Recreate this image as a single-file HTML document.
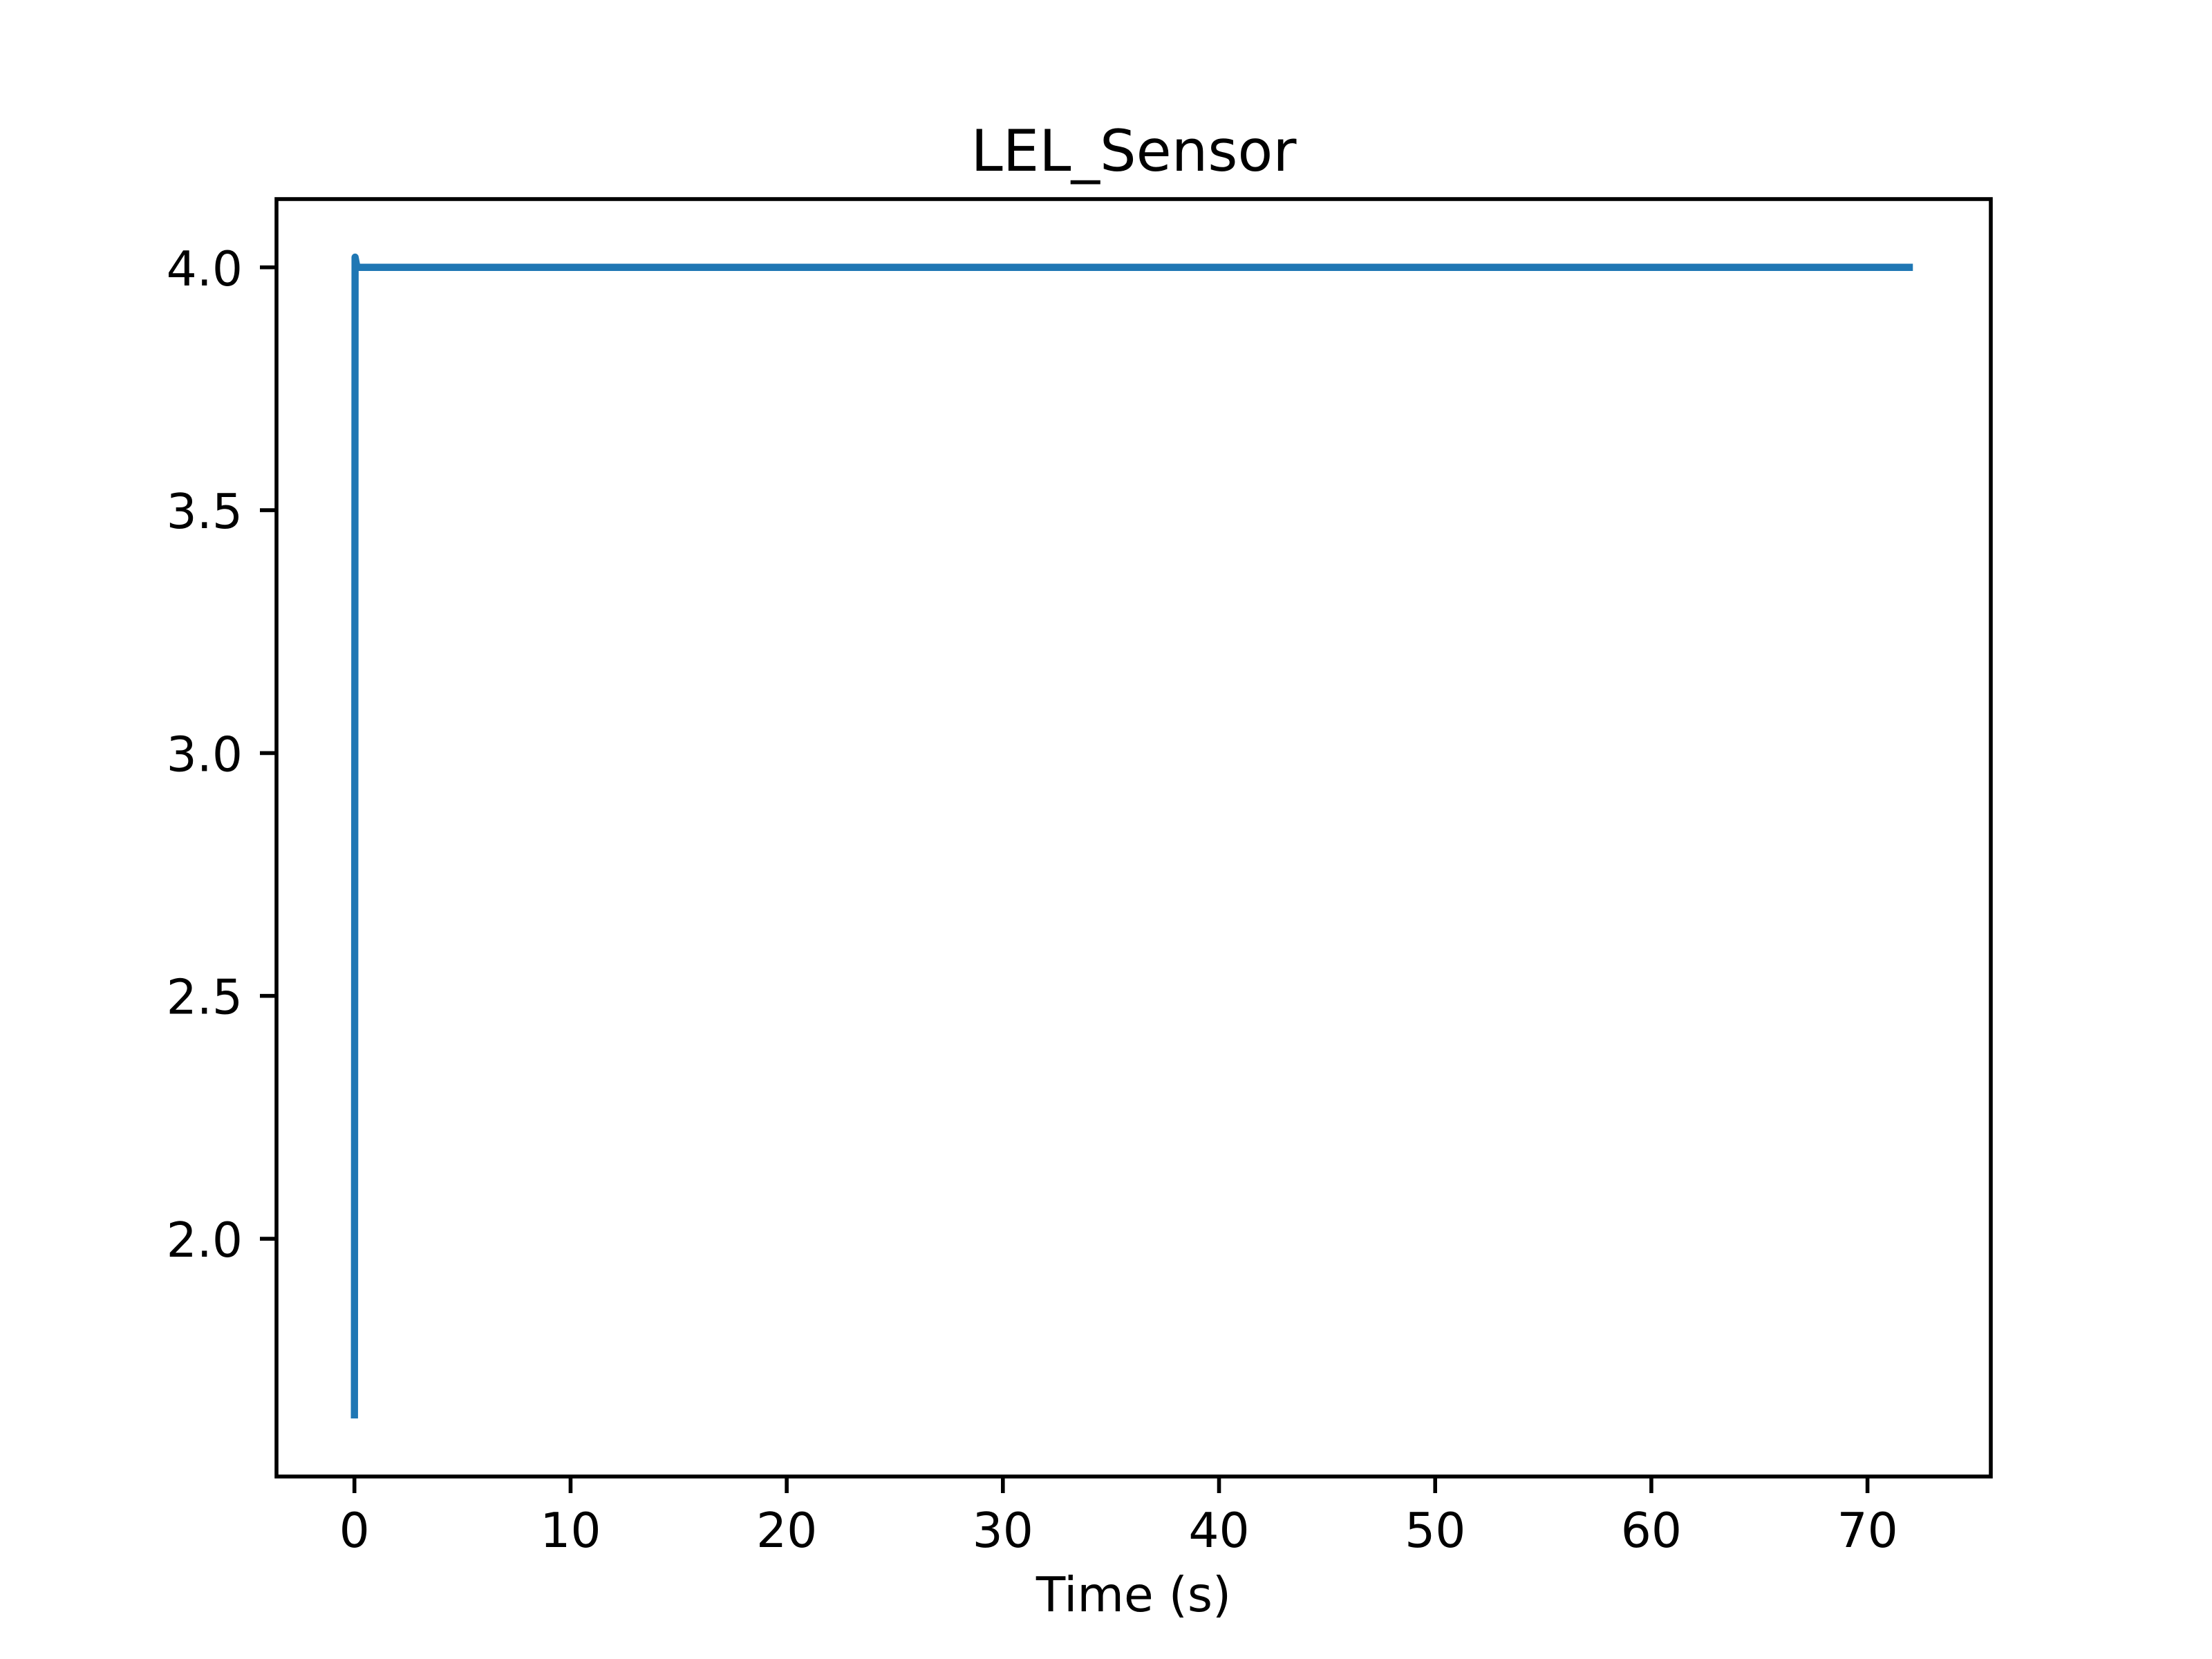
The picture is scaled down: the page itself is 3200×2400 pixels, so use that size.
<!DOCTYPE html>
<html>
<head>
<meta charset="utf-8">
<style>
  html,body{margin:0;padding:0;background:#fff;}
  svg{display:block;}
  text{font-family:"DejaVu Sans","Liberation Sans",sans-serif;fill:#000;}
</style>
</head>
<body>
<svg id="chart" width="3200" height="2400" viewBox="0 0 3200 2400" xmlns="http://www.w3.org/2000/svg">
  <rect x="0" y="0" width="3200" height="2400" fill="#fff"/>
  <text x="1640" y="247" font-size="83" text-anchor="middle">LEL_Sensor</text>
  <g id="plot"></g>
  <text x="1640" y="2331" font-size="69.4" text-anchor="middle">Time (s)</text>
</svg>
<script>
const timeValues = [0, 0.03, 0.12, 72.1];
const sensorValues = [1.63, 4.021, 4.0, 4.0];
const xTicks = [0, 10, 20, 30, 40, 50, 60, 70];
const xTickLabels = ["0", "10", "20", "30", "40", "50", "60", "70"];
const yTicks = [2.0, 2.5, 3.0, 3.5, 4.0];
const yTickLabels = ["2.0", "2.5", "3.0", "3.5", "4.0"];

const NS = "http://www.w3.org/2000/svg";
const L = 400, R = 2880, T = 288, B = 2136;
const xmin0 = Math.min(...timeValues), xmax0 = Math.max(...timeValues);
const ymin0 = Math.min(...sensorValues), ymax0 = Math.max(...sensorValues);
const xpad = (xmax0 - xmin0) * 0.05, ypad = (ymax0 - ymin0) * 0.05;
const xmin = xmin0 - xpad, xmax = xmax0 + xpad;
const ymin = ymin0 - ypad, ymax = ymax0 + ypad;
function xScale(v){ return L + (v - xmin) / (xmax - xmin) * (R - L); }
function yScale(v){ return B - (v - ymin) / (ymax - ymin) * (B - T); }

const plot = document.getElementById('plot');
function mk(tag, attrs){
  const e = document.createElementNS(NS, tag);
  for (const k in attrs) e.setAttribute(k, attrs[k]);
  return e;
}

// series line
const pts = timeValues.map((t, i) => xScale(t).toFixed(2) + ',' + yScale(sensorValues[i]).toFixed(2)).join(' ');
const line = mk('polyline', {points: pts, fill: 'none', stroke: '#1f77b4', 'stroke-width': 10.4, 'stroke-linejoin': 'round', 'stroke-linecap': 'butt'});


plot.appendChild(line);

// x ticks
xTicks.forEach((v, i) => {
  const x = xScale(v);
  const tk = mk('line', {x1: x, x2: x, y1: B, y2: B + 24, stroke: '#000', 'stroke-width': 5.6});
  
  
  plot.appendChild(tk);
  const tx = mk('text', {x: x, y: 2238, 'font-size': 69.4, 'text-anchor': 'middle'});
  tx.textContent = xTickLabels[i];
  
  
  plot.appendChild(tx);
});

// y ticks
yTicks.forEach((v, i) => {
  const y = yScale(v);
  const tk = mk('line', {x1: L - 24, x2: L, y1: y, y2: y, stroke: '#000', 'stroke-width': 5.6});
  
  
  plot.appendChild(tk);
  const tx = mk('text', {x: 351, y: y + 26, 'font-size': 69.4, 'text-anchor': 'end'});
  tx.textContent = yTickLabels[i];
  
  
  plot.appendChild(tx);
});

// frame
const frame = mk('rect', {x: L, y: T, width: R - L, height: B - T, fill: 'none', stroke: '#000', 'stroke-width': 5.6, 'stroke-linejoin': 'miter'});


plot.appendChild(frame);
</script>
</body>
</html>
